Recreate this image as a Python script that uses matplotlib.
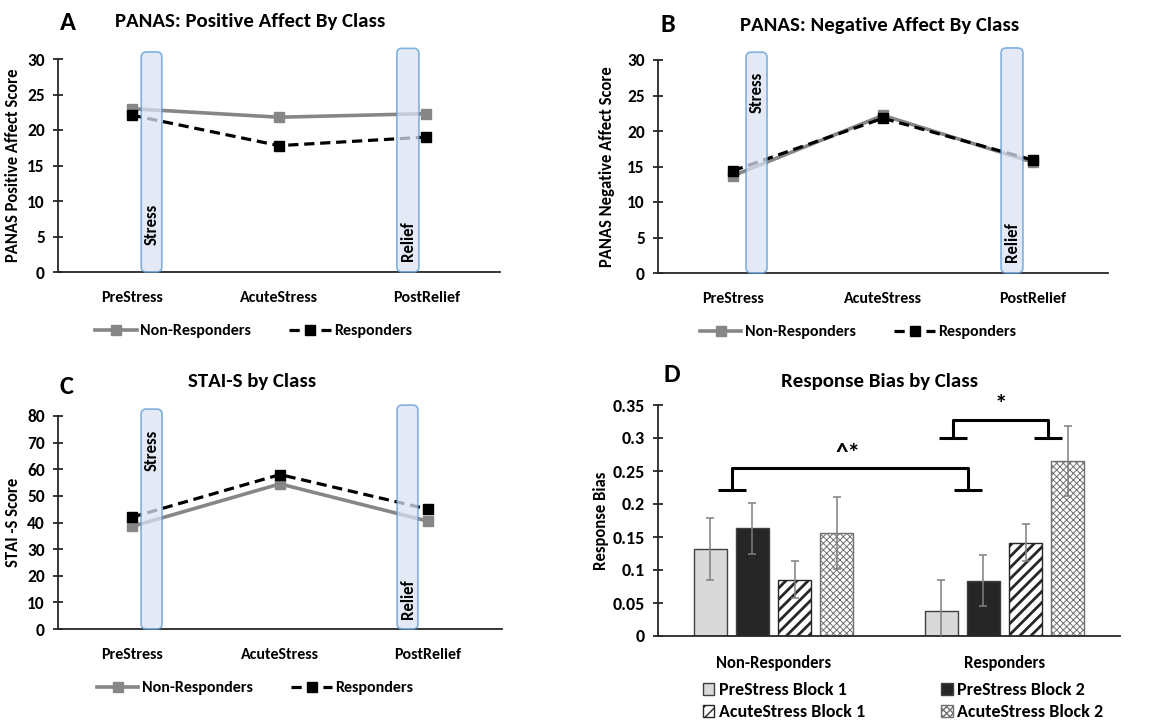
"""Stress / relief panels: PANAS affect, STAI-S and response bias by class."""
import numpy as np
import matplotlib
matplotlib.use("Agg")
import matplotlib.pyplot as plt
from matplotlib.patches import FancyBboxPatch

plt.rcParams["font.family"] = ["Carlito", "DejaVu Sans"]
plt.rcParams["font.weight"] = "bold"
plt.rcParams["axes.labelweight"] = "bold"

# -------------------------------------------------------
# Data.
# -------------------------------------------------------
phases = ["PreStress", "AcuteStress", "PostRelief"]
classes = ["Non-Responders", "Responders"]

pos_affect_nonresp = [23.0, 21.8, 22.3]
pos_affect_resp = [22.1, 17.8, 19.0]

neg_affect_nonresp = [13.7, 22.2, 15.6]
neg_affect_resp = [14.4, 21.8, 15.9]

stai_nonresp = [38.5, 54.5, 40.5]
stai_resp = [42.0, 58.0, 45.0]

blocks = ["PreStress Block 1", "PreStress Block 2",
          "AcuteStress Block 1", "AcuteStress Block 2"]
bias_nonresp = [0.132, 0.163, 0.085, 0.156]
bias_resp = [0.038, 0.084, 0.141, 0.265]
bias_err_nonresp = [0.047, 0.039, 0.028, 0.055]
bias_err_resp = [0.047, 0.039, 0.028, 0.053]

# -------------------------------------------------------
# Plot setup.
# -------------------------------------------------------
W, H = 1172, 721
fig = plt.figure(figsize=(W / 100, H / 100), dpi=100)


def px_axes(left, right, top, bottom):
    return fig.add_axes([left / W, 1 - bottom / H, (right - left) / W, (bottom - top) / H])


AXIS_COLOR = "#262626"
GRAY = "#868686"
BOX_EDGE = "#5b9bd5"
BOX_FACE = "#dae3f3"


def style_axes(ax, ysize=12.5, xsize=11.5):
    for s in ["top", "right"]:
        ax.spines[s].set_visible(False)
    for s in ["left", "bottom"]:
        ax.spines[s].set_color(AXIS_COLOR)
        ax.spines[s].set_linewidth(1.3)
    ax.tick_params(axis="y", direction="inout", length=7, width=1.3,
                   color=AXIS_COLOR, labelsize=ysize, pad=6)
    ax.tick_params(axis="x", length=0, labelsize=xsize, pad=14)


def phase_box(ax, x0, x1, top, label, label_y):
    bb = ax.get_window_extent()
    xr = ax.get_xlim()[1] - ax.get_xlim()[0]
    yr = ax.get_ylim()[1] - ax.get_ylim()[0]
    asp = (yr / bb.height) / (xr / bb.width)
    box = FancyBboxPatch(
        (x0, 0), x1 - x0, top,
        boxstyle="round,pad=0,rounding_size=0.035",
        mutation_aspect=asp,
        facecolor=BOX_FACE, edgecolor=BOX_EDGE, alpha=0.75,
        linewidth=1.2, clip_on=False, zorder=5,
    )
    ax.add_patch(box)
    ax.text((x0 + x1) / 2, label_y, label, rotation=90, ha="center",
            va="center", fontsize=12, fontweight="bold", zorder=6)


def line_panel(ax, nonresp, resp, ymax, ystep, ylabel, title, title_x,
               title_y, boxes, legend_x, ylabel_x):
    x = np.arange(len(phases))
    ax.plot(x, nonresp, color=GRAY, linewidth=2.6, marker="s",
            markersize=7, label=classes[0], zorder=3)
    ax.plot(x, resp, color="black", linewidth=2.3, linestyle=(0, (3.2, 1.8)),
            marker="s", markersize=7, label=classes[1], zorder=4)
    ax.set_xlim(-0.5, 2.5)
    ax.set_ylim(0, ymax)
    ax.set_yticks(np.arange(0, ymax + 1, ystep))
    ax.set_xticks(x)
    ax.set_xticklabels(phases)
    style_axes(ax)
    ax.set_ylabel(ylabel, fontsize=12, fontweight="bold")
    ax.yaxis.set_label_coords(ylabel_x, 0.5)
    ax.text(title_x, title_y, title, transform=ax.transAxes, ha="center",
            va="center", fontsize=15, fontweight="bold")
    for b in boxes:
        phase_box(ax, *b)
    ax.legend(loc="center", bbox_to_anchor=(legend_x, -0.278), ncol=2,
              frameon=False, handlelength=2.6, columnspacing=2.4,
              handletextpad=0.2, prop={"size": 11.5, "weight": "bold"})


# A
axA = px_axes(58, 500, 59, 272)
line_panel(axA, pos_affect_nonresp, pos_affect_resp, 30, 5,
           "PANAS Positive Affect Score", "PANAS: Positive Affect By Class",
           0.434, 1.174,
           [(0.065, 0.205, 31.0, "Stress", 6.7),
            (1.80, 1.95, 31.5, "Relief", 4.3)],
           0.443, -0.084)

# B
axB = px_axes(658, 1108, 60, 273)
line_panel(axB, neg_affect_nonresp, neg_affect_resp, 30, 5,
           "PANAS Negative Affect Score", "PANAS: Negative Affect By Class",
           0.493, 1.164,
           [(0.087, 0.227, 31.1, "Stress", 25.4),
            (1.787, 1.933, 31.7, "Relief", 4.4)],
           0.445, -0.096)

# C
axC = px_axes(58, 502, 416, 629)
line_panel(axC, stai_nonresp, stai_resp, 80, 10,
           "STAI -S Score", "STAI-S by Class",
           0.437, 1.164,
           [(0.061, 0.203, 82.6, "Stress", 67.0),
            (1.791, 1.932, 84.1, "Relief", 11.3)],
           0.444, -0.083)

# D
axD = px_axes(658, 1120, 405, 636)
bar_w = 0.143
offsets = [-0.273, -0.091, 0.091, 0.273]
faces = ["#d9d9d9", "#262626", "white", "white"]
hatches = [None, None, "///", "xxxxx"]
edges = ["#404040", "#404040", "#262626", "#707070"]
hatch_lw = [1.0, 1.0, 2.0, 0.7]
gx = np.arange(len(classes))
bar_sets = []
for i in range(len(blocks)):
    vals = [bias_nonresp[i], bias_resp[i]]
    errs = [bias_err_nonresp[i], bias_err_resp[i]]
    with plt.rc_context({"hatch.linewidth": hatch_lw[i]}):
        bars = axD.bar(gx + offsets[i], vals, width=bar_w, color=faces[i],
                       edgecolor=edges[i], hatch=hatches[i], linewidth=1.0,
                       label=blocks[i], zorder=2)
    bar_sets.append(bars)
    axD.errorbar(gx + offsets[i], vals, yerr=errs, fmt="none",
                 ecolor="#7f7f7f", elinewidth=1.1, capsize=3,
                 capthick=1.1, zorder=3)
axD.set_xlim(-0.5, 1.5)
axD.set_ylim(0, 0.35)
axD.set_yticks(np.arange(0, 0.351, 0.05))
axD.set_yticklabels(["0", "0.05", "0.1", "0.15", "0.2", "0.25", "0.3", "0.35"])
axD.set_xticks(gx)
axD.set_xticklabels(classes)
style_axes(axD, ysize=13, xsize=12)
axD.tick_params(axis="x", pad=14)
axD.set_ylabel("Response Bias", fontsize=12, fontweight="bold")
axD.yaxis.set_label_coords(-0.105, 0.5)
axD.text(0.48, 1.10, "Response Bias by Class", transform=axD.transAxes,
         ha="center", va="center", fontsize=15, fontweight="bold")

# significance brackets: (left x, right x, top y, foot y, label, label y, shift)
brackets = [
    (-0.180, 0.842, 0.2545, 0.221, "^*", 0.277, -0.01),
    (0.777, 1.188, 0.327, 0.300, "*", 0.350, 0.0),
]
foot = 0.062
for xl, xr, yt, yf, lab, ly, dx in brackets:
    axD.plot([xl - foot, xl + foot], [yf, yf], color="black", lw=2.2,
             solid_capstyle="butt", clip_on=False)
    axD.plot([xr - foot, xr + foot], [yf, yf], color="black", lw=2.2,
             solid_capstyle="butt", clip_on=False)
    axD.plot([xl, xl, xr, xr], [yf, yt, yt, yf], color="black", lw=2.2,
             solid_joinstyle="round", clip_on=False)
    axD.text((xl + xr) / 2 + dx, ly, lab, ha="center", va="center",
             fontsize=18, fontweight="bold", clip_on=False)

# legend filled row by row: matplotlib fills columns, so reorder
order = [0, 2, 1, 3]
axD.legend([bar_sets[k] for k in order], [blocks[k] for k in order],
           loc="center", bbox_to_anchor=(0.53, -0.282), ncol=2,
           frameon=False, handlelength=0.65, handleheight=0.65,
           handletextpad=0.25, columnspacing=4.2, labelspacing=0.35,
           prop={"size": 13, "weight": "bold"})

# panel letters
for letter, px, py in [("A", 68, 22), ("B", 668, 25), ("C", 67, 387), ("D", 672, 375)]:
    fig.text(px / W, 1 - py / H, letter, ha="center", va="center",
             fontsize=19, fontweight="bold")

fig.savefig("out.png", dpi=100)
